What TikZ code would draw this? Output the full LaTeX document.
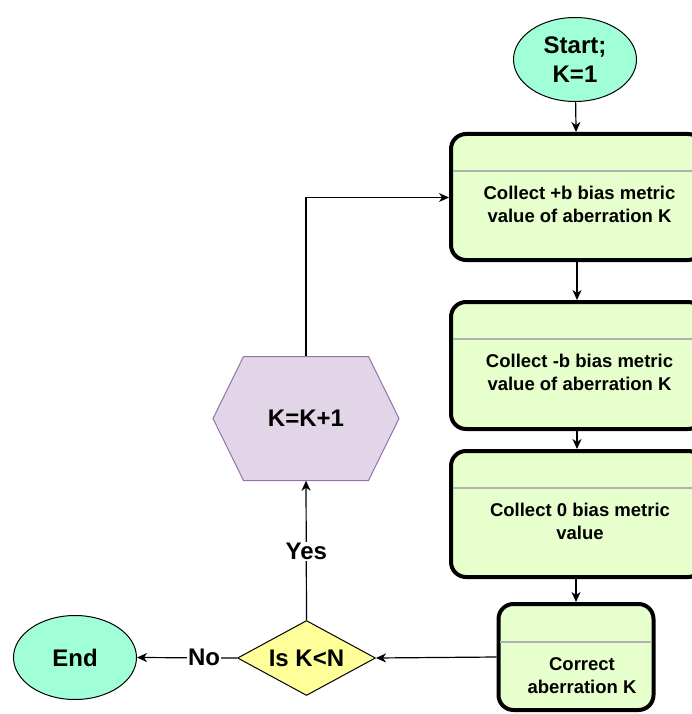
\documentclass[tikz,border=0pt]{standalone}
\usepackage{fontspec}
\setmainfont{Liberation Sans}
\usetikzlibrary{shapes.geometric,arrows.meta}
\definecolor{mint}{HTML}{A0FFD6}
\definecolor{boxgreen}{HTML}{E6FFCC}
\definecolor{hexfill}{HTML}{E1D5E7}
\definecolor{hexline}{HTML}{9673A6}
\definecolor{diafill}{HTML}{FFFF99}
\definecolor{sepgray}{HTML}{B0B0B0}
\tikzset{
  oval/.style={ellipse, draw=black, line width=1pt, fill=mint, minimum width=123pt, minimum height=84pt, inner sep=0pt, align=center, font=\bfseries\fontsize{24}{29}\selectfont},
  stepbox/.style={rectangle, draw=black, line width=4pt, fill=boxgreen, rounded corners=15pt, inner sep=0pt},
  boxtext/.style={align=center, inner sep=0pt, font=\bfseries\fontsize{18.5}{23}\selectfont},
  sepline/.style={draw=sepgray, line width=2pt},
  conn/.style={draw=black, line width=1.2pt, -{Stealth[length=10pt,width=9pt,inset=3pt]}},
  lbl/.style={fill=white, inner sep=1pt, font=\bfseries\fontsize{24}{28}\selectfont},
}
\begin{document}
\begin{tikzpicture}[x=1pt,y=-1pt]
\useasboundingbox (0,0) rectangle (692,714);
\clip (0,0) rectangle (692,714);
% nodes
\node[oval] (start) at (575,59.5) {Start;\\K=1};
\node[stepbox, minimum width=252pt, minimum height=126pt] (b1) at (577,197) {};
\node[stepbox, minimum width=252pt, minimum height=127pt] (b2) at (577,365.5) {};
\node[stepbox, minimum width=252pt, minimum height=126pt] (b3) at (577,514) {};
\node[stepbox, minimum width=155pt, minimum height=106pt] (b4) at (576,657) {};
\draw[sepline] (453,171) -- (701,171);
\draw[sepline] (453,339) -- (701,339);
\draw[sepline] (453,488) -- (701,488);
\draw[sepline] (500,642) -- (652,642);
\node[boxtext] (t1) at (579.5,204.5) {Collect +b bias metric\\value of aberration K};
\node[boxtext] (t2) at (579.5,372.5) {Collect -b bias metric\\value of aberration K};
\node[boxtext] (t3) at (580,521) {Collect 0 bias metric\\value};
\node[boxtext] (t4) at (582,676) {Correct\\aberration K};
\node[diamond, draw=black, line width=1pt, fill=diafill, minimum width=138pt, minimum height=75pt, inner sep=0pt] (dia) at (306.5,658) {};
\node[font=\bfseries\fontsize{24}{29}\selectfont] (diat) at (306.5,658) {Is K<N};
\filldraw[fill=hexfill, draw=hexline, line width=1pt] (213,418.5) -- (243.5,356.5) -- (368.5,356.5) -- (399,418.5) -- (368.5,480.5) -- (243.5,480.5) -- cycle;
\node[font=\bfseries\fontsize{24}{29}\selectfont, minimum width=186pt, minimum height=124pt, inner sep=0pt] (hex) at (306,418.5) {K=K+1};
\node[oval] (end) at (75,657.5) {End};
% connectors
\draw[conn] (start) -- (b1);
\draw[conn] (b1) -- (b2);
\draw[conn] (b2) -- (b3);
\draw[conn] (b3.south -| b4.north) -- (b4);
\draw[conn] (b4.west) -- (dia.east);
\draw[conn] (dia.west) -- node[lbl, pos=0.33] {No} (end.east);
\draw[conn] (dia.north) -- node[lbl, pos=0.49] {Yes} (hex.south);
\draw[conn] (hex.north) |- (b1.west |- 0,197.5);
\end{tikzpicture}
\end{document}
